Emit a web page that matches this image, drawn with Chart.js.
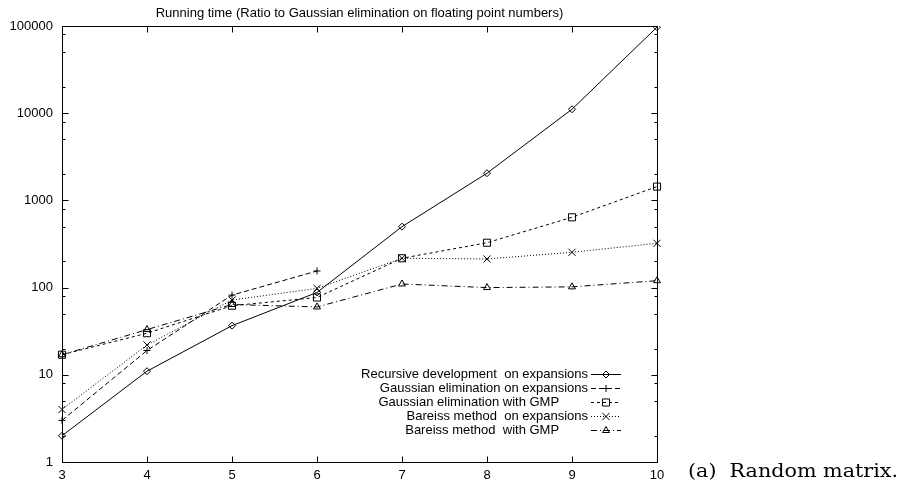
<!DOCTYPE html>
<html lang="en">
<head>
<meta charset="UTF-8">
<title>Running time</title>
<script src="https://cdn.jsdelivr.net/npm/chart.js"></script>
<style>
  body { margin: 0; background: #fff; }
</style>
</head>
<body>
<canvas id="chart" width="907" height="492"></canvas>
<script>
// matrix size n
const sizes = ['3', '4', '5', '6', '7', '8', '9', '10'];
// ratio to gaussian elimination on doubles
const recursiveExp = [2, 11, 36.6, 88, 500, 2050, 11100, 97000];
const gaussExp     = [3, 19, 82, 155, null, null, null, null];
const gaussGmp     = [17, 30, 62, 77, 217, 327, 640, 1440];
const bareissExp   = [4, 22, 72, 98, 217, 213, 254, 322];
const bareissGmp   = [17, 33, 64, 60, 110, 100, 102, 120];

const seriesNames = [
  'Recursive development  on expansions',
  'Gaussian elimination on expansions',
  'Gaussian elimination with GMP        ',
  'Bareiss method  on expansions',
  'Bareiss method  with GMP        '
];
const yTickValues = [1, 10, 100, 1000, 10000, 100000];
const yMinorFactors = [2, 5, 8];
const titleText = 'Running time (Ratio to Gaussian elimination on floating point numbers)';
const captionText = '(a)  Random matrix.';

Chart.defaults.font.family = '"Liberation Sans", Arial, sans-serif';
Chart.defaults.font.size = 13;
Chart.defaults.color = '#000';

function series(label, data, style, radius, dash) {
  return {
    label, data,
    borderColor: '#000', borderWidth: 1, borderDash: dash,
    pointStyle: style, pointRadius: radius, pointBorderWidth: 1,
    pointBorderColor: '#000', pointBackgroundColor: 'rgba(0,0,0,0)',
    fill: false, tension: 0, spanGaps: false
  };
}

const datasets = [
  series(seriesNames[0], recursiveExp, 'rectRot', 3.5, []),
  series(seriesNames[1], gaussExp, 'cross', 3.5, [5, 3]),
  series(seriesNames[2], gaussGmp, 'rect', 5, [3, 3]),
  series(seriesNames[3], bareissExp, 'crossRot', 5, [1, 2]),
  series(seriesNames[4], bareissGmp, 'triangle', 4, [6, 3, 1, 3])
];

// gnuplot style border, inward ticks, key, title and caption
const gnuplotLook = {
  id: 'gnuplotLook',
  afterDraw(chart) {
    const { ctx, chartArea: a, scales: { x, y } } = chart;
    ctx.save();
    ctx.strokeStyle = '#000';
    ctx.lineWidth = 1;
    ctx.setLineDash([]);
    const L = Math.round(a.left) + 0.5, R = Math.round(a.right) + 0.5;
    const T = Math.round(a.top) + 0.5, B = Math.round(a.bottom) + 0.5;
    ctx.strokeRect(L, T, R - L, B - T);

    ctx.beginPath();
    sizes.forEach((s, i) => {
      const px = Math.round(x.getPixelForValue(i)) + 0.5;
      ctx.moveTo(px, B); ctx.lineTo(px, B - 6);
      ctx.moveTo(px, T); ctx.lineTo(px, T + 6);
    });
    yTickValues.forEach((v, i) => {
      const py = Math.round(y.getPixelForValue(v)) + 0.5;
      ctx.moveTo(L, py); ctx.lineTo(L + 6, py);
      ctx.moveTo(R, py); ctx.lineTo(R - 6, py);
      if (i < yTickValues.length - 1) {
        yMinorFactors.forEach(f => {
          const my = Math.round(y.getPixelForValue(v * f)) + 0.5;
          ctx.moveTo(L, my); ctx.lineTo(L + 3, my);
          ctx.moveTo(R, my); ctx.lineTo(R - 3, my);
        });
      }
    });
    ctx.stroke();

    // title
    ctx.fillStyle = '#000';
    ctx.font = '13px "Liberation Sans", Arial, sans-serif';
    ctx.textAlign = 'center';
    ctx.textBaseline = 'middle';
    ctx.fillText(titleText, (a.left + a.right) / 2, 13);

    // key
    chart.data.datasets.forEach((ds, i) => {
      const ky = 374 + 14 * i;
      ctx.textAlign = 'right';
      ctx.fillStyle = '#000';
      ctx.fillText(ds.label, 588, ky);
      ctx.beginPath();
      ctx.setLineDash(ds.borderDash);
      ctx.moveTo(591, ky + 0.5); ctx.lineTo(621, ky + 0.5);
      ctx.stroke();
      ctx.setLineDash([]);
      ctx.fillStyle = 'rgba(0,0,0,0)';
      Chart.helpers.drawPoint(ctx, {
        pointStyle: ds.pointStyle, radius: ds.pointRadius, borderWidth: 1, rotation: 0
      }, 606, ky + 0.5);
    });

    // caption, stretched to the width of the latex one
    ctx.fillStyle = '#000';
    ctx.textAlign = 'left';
    ctx.textBaseline = 'alphabetic';
    ctx.font = '18px "DejaVu Serif", serif';
    const sx = 210 / ctx.measureText(captionText).width;
    ctx.translate(688, 477);
    ctx.scale(sx, 1);
    ctx.fillText(captionText, 0, 0);
    ctx.restore();
  }
};

new Chart(document.getElementById('chart'), {
  type: 'line',
  data: { labels: sizes, datasets },
  options: {
    responsive: false,
    animation: false,
    layout: { padding: { top: 26, right: 250, left: 0, bottom: 0 } },
    plugins: { legend: { display: false }, tooltip: { enabled: false } },
    scales: {
      x: {
        type: 'category',
        offset: false,
        grid: { display: false, drawTicks: false, tickLength: 0 },
        border: { display: false },
        ticks: { padding: 6, autoSkip: false, maxRotation: 0 },
        afterFit: s => { s.height = 30; }
      },
      y: {
        type: 'logarithmic',
        min: 1,
        max: 100000,
        grid: { display: false, drawTicks: false, tickLength: 0 },
        border: { display: false },
        ticks: { padding: 9, callback: v => String(v) },
        afterBuildTicks: s => { s.ticks = yTickValues.map(v => ({ value: v })); },
        afterFit: s => { s.width = 62; }
      }
    }
  },
  plugins: [gnuplotLook]
});
</script>
</body>
</html>
